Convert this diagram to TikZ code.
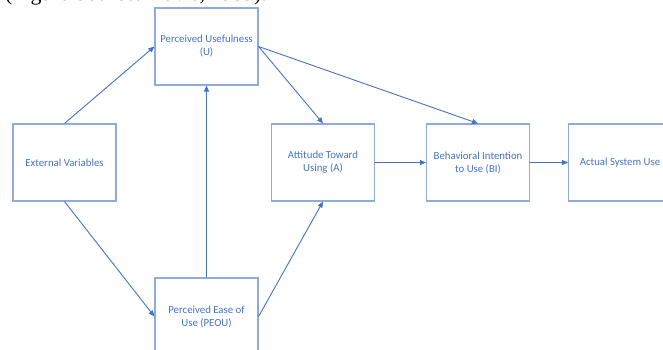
\documentclass[tikz,border=0pt]{standalone}
\usepackage{fontspec}
\setmainfont{Carlito}
\newfontfamily\capfont{Liberation Serif}
\usetikzlibrary{arrows.meta}
\definecolor{boxline}{HTML}{8FAADC}
\definecolor{txtblue}{HTML}{4472C4}
\definecolor{arrblue}{HTML}{4472C4}
\begin{document}
\begin{tikzpicture}[x=1pt,y=-1pt,
  tambox/.style={draw=boxline, line width=1.1pt, minimum width=103pt, minimum height=77pt,
    align=center, text=txtblue, font=\fontsize{10.8}{13}\selectfont, inner sep=0pt},
  link/.style={draw=arrblue, line width=0.9pt, -{Triangle[length=6pt,width=5pt]}}]
\useasboundingbox (0,0) rectangle (663,350);
\clip (0,0) rectangle (663,350);
\node[anchor=base west, font=\capfont\fontsize{21.8}{26}\selectfont, text=black, inner sep=0pt] (cap) at (5,1) {(Figure Source: Davis, 1989).};
\node[tambox] (ev) at (64.5,162.5) {External Variables};
\node[tambox] (pu) at (206.5,46.5) {Perceived Usefulness\\(U)};
\node[tambox] (peou) at (206.5,316.5) {Perceived Ease of\\Use (PEOU)};
\node[tambox] (att) at (323,162.5) {Attitude Toward\\Using (A)};
\node[tambox] (bi) at (478,162.5) {Behavioral Intention\\to Use (BI)};
\node[tambox] (asu) at (620,162.5) {Actual System Use};
\draw[link] (ev.north) -- (pu.west);
\draw[link] (ev.south) -- (peou.west);
\draw[link] (peou.north) -- (pu.south);
\draw[link] (peou.east) -- (att.south);
\draw[link] (pu.east) -- (att.north);
\draw[link] (pu.east) -- (bi.north);
\draw[link] (att.east) -- (bi.west);
\draw[link] (bi.east) -- (asu.west);
\end{tikzpicture}
\end{document}
